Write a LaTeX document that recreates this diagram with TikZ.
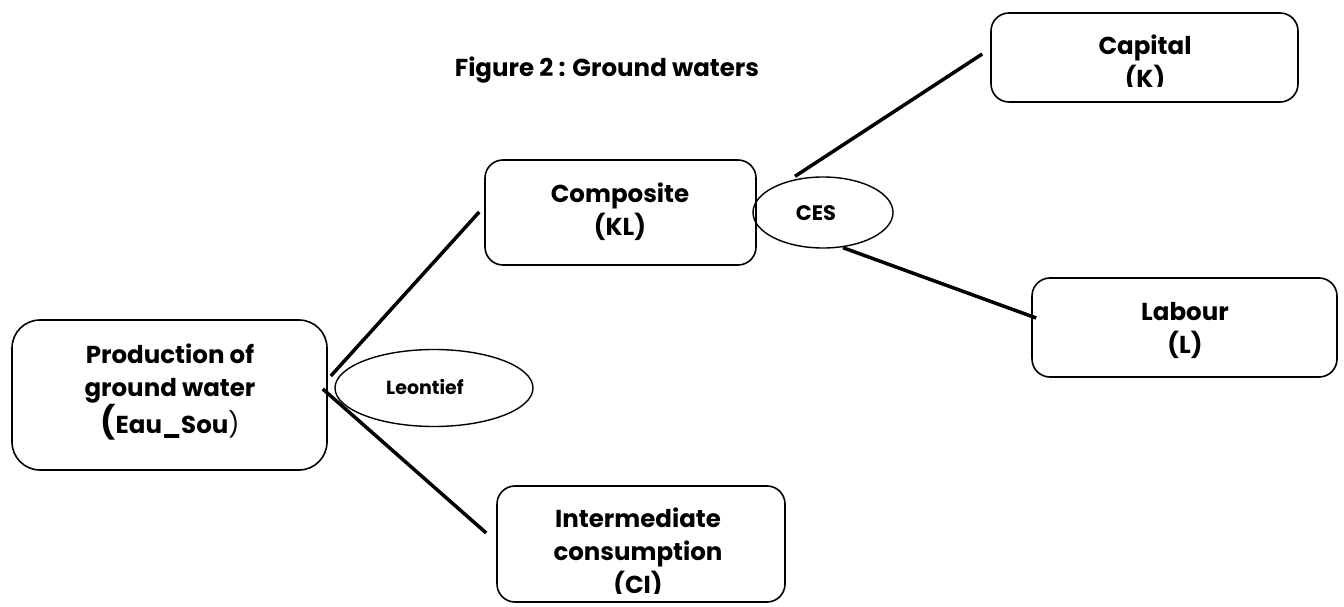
\documentclass[tikz,border=0pt]{standalone}
\usepackage{fontspec}
\setmainfont{Poppins}
\usetikzlibrary{shapes.geometric}
\begin{document}
\begin{tikzpicture}[x=1pt,y=1pt,
  box/.style={draw, line width=1.6pt, rounded corners=18pt, inner sep=0pt},
  oval/.style={draw, ellipse, line width=1.4pt, inner sep=0pt},
  txt/.style={align=center, inner sep=0pt, font=\fontsize{24.5}{33}\selectfont\bfseries},
  small/.style={inner sep=0pt, font=\fontsize{19}{22}\selectfont\bfseries},
  link/.style={line width=3.5pt}]
\useasboundingbox (0,0) rectangle (1344,606);
% title
\node[txt] (title) at (607,536) {Figure 2 : Ground waters};
% boxes
\node[box, minimum width=315pt, minimum height=150pt, rounded corners=28pt] (prod) at (169.5,211) {};
\node[txt] (prodt) at (170,214) {Production of\\ground water\\{\fontsize{32}{33}\selectfont(}Eau\_Sou{\mdseries)}};
\node[box, minimum width=271pt, minimum height=105pt] (comp) at (620.5,393.5) {};
\node[txt] (compt) at (620,394.5) {Composite\\(KL)};
\node[box, minimum width=307pt, minimum height=89pt] (cap) at (1144.5,548.5) {};
\begin{scope}
\clip (991,519) rectangle (1298,606);
\node[txt] (capt) at (1145,542.5) {Capital\\(K)};
\end{scope}
\node[box, minimum width=305pt, minimum height=99pt] (lab) at (1184.5,278.5) {};
\node[txt] (labt) at (1185,276) {Labour\\(L)};
\node[box, minimum width=288pt, minimum height=116pt] (ic) at (641,62) {};
\begin{scope}
\clip (497,13) rectangle (785,606);
\node[txt] (ict) at (638,52.5) {Intermediate\\consumption\\(CI)};
\end{scope}
% ellipses
\node[oval, minimum width=198pt, minimum height=77pt] (leo) at (434,218) {};
\node[small] (leot) at (425,219) {Leontief};
\node[oval, minimum width=140pt, minimum height=71pt] (ces) at (823,393.5) {};
\node[small, font=\fontsize{21}{24}\selectfont\bfseries] (cest) at (816,393) {CES};
% connectors
\draw[link] ([shift={(3pt,19pt)}]prod.east) -- ([shift={(-5pt,0.5pt)}]comp.west);
\draw[link] ([shift={(-5pt,6pt)}]prod.east) -- ([shift={(-10pt,11pt)}]ic.west);
\draw[link] ([xshift=-28pt]ces.north) -- ([shift={(-8pt,3.5pt)}]cap.west);
\draw[link] ([xshift=20pt,yshift=1pt]ces.south) -- ([shift={(5pt,9.5pt)}]lab.west);
\end{tikzpicture}
\end{document}
